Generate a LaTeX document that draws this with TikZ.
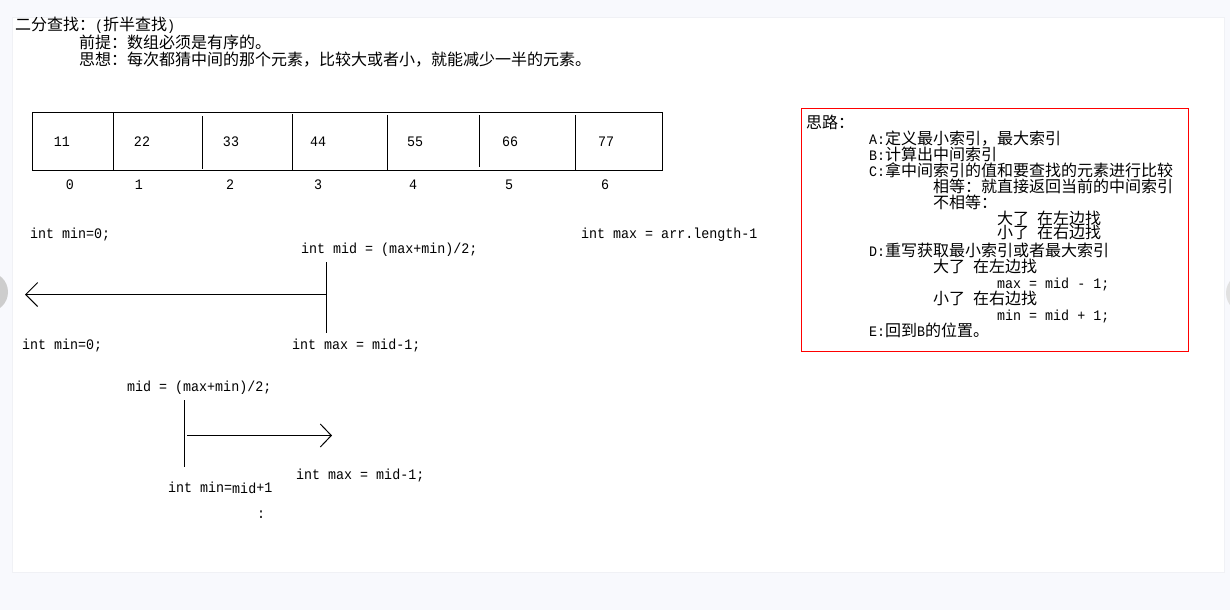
\documentclass[tikz,border=0pt]{standalone}
\usepackage{fontspec}
\setmonofont{Liberation Mono}[FakeStretch=0.92]
\newfontfamily\cjk{Noto Sans CJK SC}
\usetikzlibrary{arrows.meta}
\newcommand\lat[1]{{\ttfamily\fontsize{14.5}{16}\selectfont #1}}
\definecolor{pagebg}{RGB}{248,249,253}
\definecolor{panelline}{RGB}{240,241,245}
\definecolor{navgray}{RGB}{205,205,205}
\tikzset{
  txt/.style={anchor=base west, inner sep=0pt, font=\cjk\fontsize{16}{16}\selectfont},
  ltx/.style={anchor=base west, inner sep=0pt, font=\ttfamily\fontsize{14.5}{16}\selectfont},
  num/.style={anchor=base, inner sep=0pt, font=\ttfamily\fontsize{14.5}{16}\selectfont},
  ln/.style={line width=1pt, draw=black},
  arr/.style={ln, -{Straight Barb[length=12pt,width=24pt]}},
  redbox/.style={draw=red, line width=1pt},
}
\begin{document}
\begin{tikzpicture}[x=1pt,y=-1pt]
\useasboundingbox (0,0) rectangle (1230,610);
\fill[pagebg] (0,0) rectangle (1230,610);
\fill[navgray] (-12,292) circle (20);
\fill[navgray!60] (1246,293) circle (20);
\filldraw[fill=white, draw=panelline] (12,17) rectangle (1224,572);

% title
\node[txt] (t1) at (15,30.5) {二分查找：\lat{(}折半查找\lat{)}};
\node[txt] (t2) at (79,48.5) {前提：数组必须是有序的。};
\node[txt] (t3) at (79,65) {思想：每次都猜中间的那个元素，比较大或者小，就能减少一半的元素。};

% array
\draw[ln] (32.5,112.5) rectangle (662.5,170.5);
\draw[ln] (113.5,112.5) -- (113.5,170.5);
\draw[ln] (202.5,116) -- (202.5,169);
\draw[ln] (292.5,114) -- (292.5,170.5);
\draw[ln] (387.5,115) -- (387.5,170.5);
\draw[ln] (479.5,115) -- (479.5,167);
\draw[ln] (575.5,115) -- (575.5,170);

\node[num] (c0) at (62,146) {11};
\node[num] (c1) at (142,146) {22};
\node[num] (c2) at (231,146) {33};
\node[num] (c3) at (318,146) {44};
\node[num] (c4) at (415,146) {55};
\node[num] (c5) at (510,146) {66};
\node[num] (c6) at (606,146) {77};

\node[num] (i0) at (70,189) {0};
\node[num] (i1) at (139,189) {1};
\node[num] (i2) at (230,189) {2};
\node[num] (i3) at (318,189) {3};
\node[num] (i4) at (413,189) {4};
\node[num] (i5) at (509,189) {5};
\node[num] (i6) at (605,189) {6};

% first step
\node[ltx] (min0) at (30,238) {int min=0;};
\node[ltx] (max0) at (581,238) {int max = arr.length-1};
\node[ltx] (mid0) at (301,253) {int mid = (max+min)/2;};
\node[ltx] (min1) at (22,349.5) {int min=0;};
\node[ltx] (max1) at (292,349.5) {int max = mid-1;};

\coordinate (v1t) at (326.5,262);
\coordinate (v1b) at (326.5,333);
\draw[ln] (v1t) -- (v1b);
\coordinate (a1s) at (326.5,294.5);
\coordinate (a1e) at (25,294.5);
\draw[arr] (a1s) -- (a1e);

% second step
\node[ltx] (mid1) at (127,391) {mid = (max+min)/2;};
\coordinate (v2t) at (184.5,400);
\coordinate (v2b) at (184.5,467);
\draw[ln] (v2t) -- (v2b);
\coordinate (a2s) at (187,435.5);
\coordinate (a2e) at (332,435.5);
\draw[ln, -{Straight Barb[length=11pt,width=23pt]}] (a2s) -- (a2e);
\node[ltx] (max2) at (296,479) {int max = mid-1;};
\node[ltx] (min2) at (168,492) {int min=\raisebox{-1.5pt}{mid}+1};
\node[ltx] (colon) at (257,518) {:};

% red box
\draw[redbox] (801.5,108.5) rectangle (1188.5,351.5);
\node[txt] (s0) at (806,128.5) {思路：};
\node[txt] (sA) at (869,144.5) {\lat{A:}定义最小索引，最大索引};
\node[txt] (sB) at (869,160.5) {\lat{B:}计算出中间索引};
\node[txt] (sC) at (869,176.5) {\lat{C:}拿中间索引的值和要查找的元素进行比较};
\node[txt] (sC1) at (933,192.5) {相等：就直接返回当前的中间索引};
\node[txt] (sC2) at (933,208.5) {不相等：};
\node[txt] (sC3) at (997,224) {大了\hspace{8pt}在左边找};
\node[txt] (sC4) at (997,238.5) {小了\hspace{8pt}在右边找};
\node[txt] (sD) at (869,256) {\lat{D:}重写获取最小索引或者最大索引};
\node[txt] (sD1) at (933,272) {大了\hspace{8pt}在左边找};
\node[ltx] (sD2) at (997,288) {max = mid - 1;};
\node[txt] (sD3) at (933,304) {小了\hspace{8pt}在右边找};
\node[ltx] (sD4) at (997,320) {min = mid + 1;};
\node[txt] (sE) at (869,336) {\lat{E:}回到\lat{B}的位置。};
\end{tikzpicture}
\end{document}
